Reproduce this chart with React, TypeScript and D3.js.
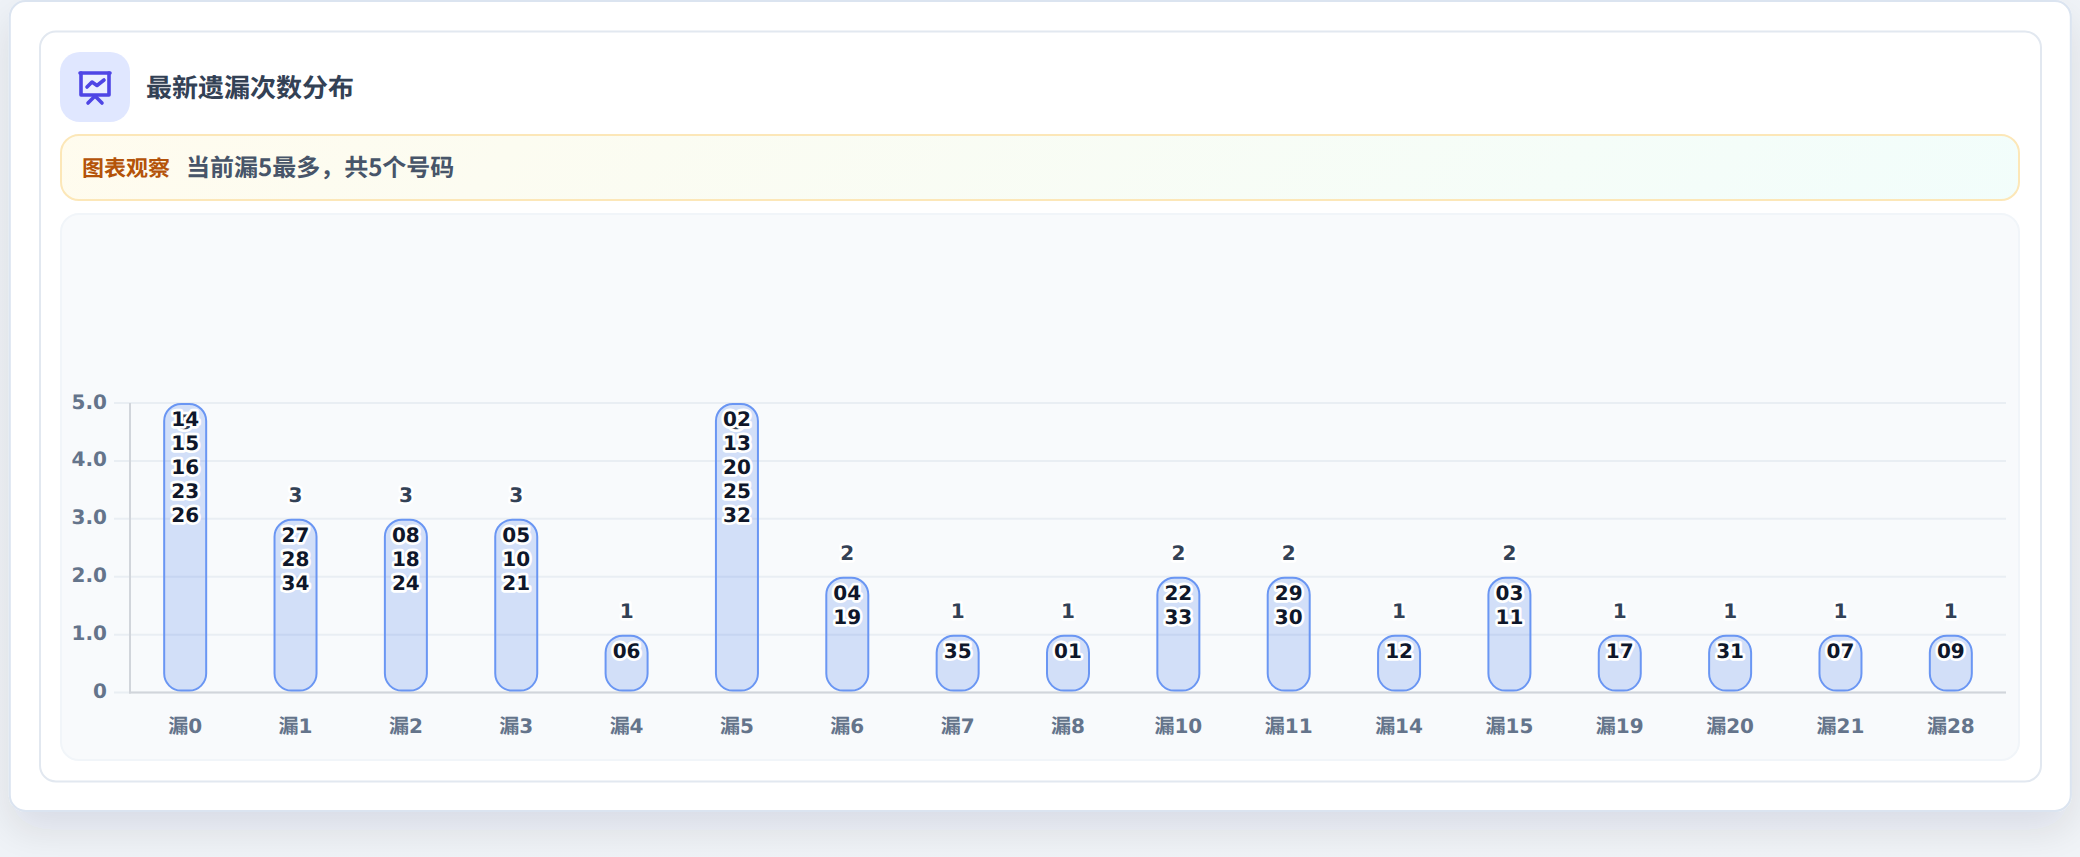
import React from "react";
import * as d3 from "d3";

const categories = ["漏0","漏1","漏2","漏3","漏4","漏5","漏6","漏7","漏8","漏10","漏11","漏14","漏15","漏19","漏20","漏21","漏28"];
const numbers = [
  ["14","15","16","23","26"],["27","28","34"],["08","18","24"],["05","10","21"],["06"],
  ["02","13","20","25","32"],["04","19"],["35"],["01"],["22","33"],["29","30"],["12"],
  ["03","11"],["17"],["31"],["07"],["09"],
];
const counts = [5,3,3,3,1,5,2,1,1,2,2,1,2,1,1,1,1];
const yTicks = [0,1,2,3,4,5];
const titleText = "最新遗漏次数分布";
const noteLabel = "图表观察";
const noteText = "当前漏5最多，共5个号码";

const sans = "'DejaVu Sans', 'Noto Sans CJK SC', sans-serif";
const cjk = "'Noto Sans CJK SC', sans-serif";
const halo = { paintOrder: "stroke", stroke: "#fff", strokeWidth: 5.3, strokeLinejoin: "round" } as const;

export default function App() {
  const x = d3.scaleBand<string>().domain(categories).range([130, 2006]);
  const y = d3.scaleLinear().domain([0, 5]).range([692.6, 403]);
  const barW = 42;
  return (
    <svg width={2080} height={857} textRendering="geometricPrecision" style={{ position: "absolute", left: 0, top: 0, display: "block" }}>
      <defs>
        <linearGradient id="page" x1="0" y1="0" x2="1" y2="1">
          <stop offset="0" stopColor="#eff3f8" />
          <stop offset="1" stopColor="#f1f4f8" />
        </linearGradient>
        <linearGradient id="note" x1="0" y1="0" x2="1" y2="0.03">
          <stop offset="0" stopColor="#fffbeb" />
          <stop offset="1" stopColor="#f0fdfa" />
        </linearGradient>
        <filter id="shadow" x="-5%" y="-10%" width="110%" height="125%">
          <feDropShadow dx="0" dy="18" stdDeviation="20" floodColor="#0f172a" floodOpacity="0.1" />
        </filter>
      </defs>
      <rect width={2080} height={857} fill="url(#page)" />
      <rect x={9.8} y={1} width={2061} height={810} rx={16} fill="#fff" stroke="#dbe4f0" strokeWidth={2} filter="url(#shadow)" />
      <rect x={40} y={31.5} width={2001} height={750} rx={16} fill="#fff" stroke="#e2e8f0" strokeWidth={2} />

      <rect x={60} y={52} width={70} height={70} rx={20} fill="#e0e7ff" />
      <g fill="none" stroke="#4f46e5" strokeWidth={3.6} strokeLinecap="round" strokeLinejoin="round">
        <path d="M81 73V95H109V73" fill="#fff" fillOpacity={0.35} stroke="none" />
        <path d="M80 73H110" />
        <path d="M81 73V95H109V73" />
        <path d="M87 87L92 82L97 85.5L104 80" />
        <path d="M88 103L95 96L102 103" />
      </g>
      <text x={146} y={97} fontFamily={cjk} fontWeight={700} fontSize={26} fill="#334155">{titleText}</text>

      <rect x={61} y={135} width={1958} height={65} rx={18} fill="url(#note)" fillOpacity={0.85} stroke="#fce7b8" strokeWidth={2} />
      <text x={82} y={176} fontFamily={cjk} fontWeight={700} fontSize={22} fill="#b45309">{noteLabel}</text>
      <text x={186} y={176} fontFamily={cjk} fontWeight={700} fontSize={24} fill="#475569">{noteText}</text>

      <rect x={61} y={214} width={1958} height={546} rx={18} fill="#f8fafc" stroke="#f1f5f9" strokeWidth={2} />

      {yTicks.map((t) => (
        <g key={t}>
          <line x1={114} x2={2006} y1={y(t)} y2={y(t)} stroke="#e2e8f0" strokeOpacity={0.7} strokeWidth={2} />
          <text x={107} y={y(t) - 1.7} dy="0.36em" textAnchor="end" fontFamily={sans} fontWeight={700} fontSize={20} fill="#64748b">
            {t === 0 ? "0" : t.toFixed(1)}
          </text>
        </g>
      ))}
      <line x1={130} x2={130} y1={403} y2={693.5} stroke="#d1d5db" strokeWidth={2} />
      <line x1={129} x2={2006} y1={692.6} y2={692.6} stroke="#d1d5db" strokeWidth={2} />

      {categories.map((c, i) => {
        const cx = x(c)! + x.bandwidth() / 2;
        const top = y(counts[i]);
        return (
          <g key={c}>
            <rect x={cx - barW / 2} y={top + 1} width={barW} height={y(0) - top - 3} rx={17} fill="#2563eb" fillOpacity={0.18} stroke="#6a96f3" strokeWidth={2} />
            <text x={cx} y={counts[i] === 5 ? top + 19 : top - 24} dy="0.36em" textAnchor="middle" fontFamily={sans} fontWeight={700} fontSize={20} fill="#334155" style={halo}>
              {counts[i]}
            </text>
            {numbers[i].map((n, k) => (
              <text key={n} x={cx} y={top + 16 + k * 24} dy="0.36em" textAnchor="middle" fontFamily={sans} fontWeight={700} fontSize={20} fill="#0f172a" style={halo}>
                {n}
              </text>
            ))}
            <text x={cx} y={733} textAnchor="middle" fontFamily={sans} fontWeight={700} fontSize={20} fill="#64748b">{c}</text>
          </g>
        );
      })}
    </svg>
  );
}
